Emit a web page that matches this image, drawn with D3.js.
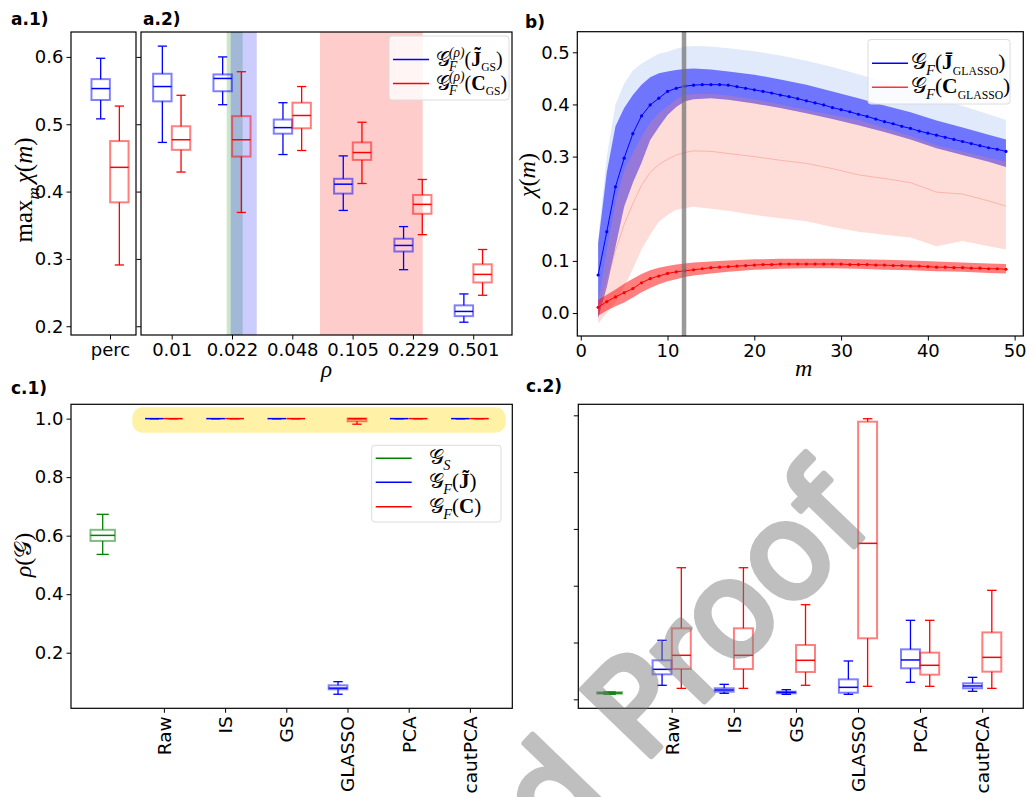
<!DOCTYPE html>
<html>
<head>
<meta charset="utf-8">
<script src="https://cdnjs.cloudflare.com/ajax/libs/d3/7.8.5/d3.min.js"></script>
<style>
  html, body { margin: 0; padding: 0; background: #fff; }
</style>
</head>
<body>
<div id="chart"></div>
<script>
// ---- data ----
var aBlue = [0.508, 0.536, 0.553, 0.567, 0.598];   // lo, q1, median, q3, hi
var aRed = [0.291, 0.384, 0.436, 0.475, 0.527];

var rhoLabels = ['0.01', '0.022', '0.048', '0.105', '0.229', '0.501'];
var rhoBlue = [
  [0.473, 0.534, 0.556, 0.575, 0.616],
  [0.529, 0.549, 0.568, 0.574, 0.600],
  [0.455, 0.486, 0.495, 0.507, 0.532],
  [0.372, 0.397, 0.411, 0.419, 0.453],
  [0.284, 0.311, 0.320, 0.330, 0.348],
  [0.206, 0.215, 0.222, 0.231, 0.248]
];
var rhoRed = [
  [0.429, 0.462, 0.477, 0.497, 0.543],
  [0.369, 0.452, 0.477, 0.512, 0.578],
  [0.461, 0.494, 0.513, 0.532, 0.556],
  [0.412, 0.447, 0.458, 0.473, 0.503],
  [0.336, 0.367, 0.381, 0.395, 0.418],
  [0.246, 0.265, 0.277, 0.292, 0.314]
];
var bandGreen = [0.912, 1.177];
var bandBlue = [0.978, 1.410];
var bandRed = [2.459, 4.162];

var mVals = d3.range(2, 50);
var blueMean = [0.073, 0.156, 0.242, 0.297, 0.344, 0.378, 0.399, 0.412, 0.425, 0.431, 0.435, 0.437,
  0.438, 0.438, 0.438, 0.437, 0.434, 0.431, 0.428, 0.425, 0.422, 0.418, 0.415, 0.411, 0.407, 0.403,
  0.399, 0.394, 0.390, 0.386, 0.381, 0.377, 0.372, 0.367, 0.363, 0.358, 0.354, 0.349, 0.345, 0.341,
  0.337, 0.333, 0.329, 0.325, 0.321, 0.317, 0.314, 0.310];
var redMean = [0.011, 0.022, 0.031, 0.039, 0.047, 0.058, 0.066, 0.071, 0.076, 0.079, 0.081, 0.083,
  0.085, 0.087, 0.088, 0.089, 0.090, 0.091, 0.092, 0.093, 0.093, 0.094, 0.094, 0.094, 0.094, 0.094,
  0.094, 0.094, 0.094, 0.093, 0.093, 0.093, 0.092, 0.092, 0.091, 0.091, 0.090, 0.090, 0.089, 0.088,
  0.088, 0.087, 0.087, 0.086, 0.086, 0.085, 0.085, 0.084];

var bandM = [2, 3, 4, 5, 6, 7, 8, 9, 10, 11, 12, 13, 15, 17, 20, 23, 26, 29, 32, 35, 38, 41, 44, 47, 49];
var lightHi = [0.14, 0.30, 0.40, 0.44, 0.465, 0.478, 0.488, 0.497, 0.501, 0.507, 0.511, 0.512, 0.511,
  0.508, 0.502, 0.494, 0.484, 0.472, 0.458, 0.443, 0.428, 0.412, 0.397, 0.381, 0.370];
var darkHi = [0.134, 0.27, 0.358, 0.393, 0.418, 0.438, 0.452, 0.460, 0.463, 0.466, 0.468, 0.469, 0.467,
  0.463, 0.457, 0.448, 0.438, 0.425, 0.412, 0.398, 0.385, 0.369, 0.356, 0.342, 0.333];
var darkLo = [-0.01, 0.05, 0.127, 0.204, 0.25, 0.288, 0.332, 0.357, 0.38, 0.395, 0.406, 0.41, 0.412,
  0.409, 0.402, 0.393, 0.383, 0.372, 0.36, 0.347, 0.333, 0.316, 0.303, 0.29, 0.28];
var pinkHi = [0.02, 0.12, 0.211, 0.274, 0.307, 0.338, 0.365, 0.384, 0.396, 0.41, 0.418, 0.42, 0.42,
  0.417, 0.41, 0.40, 0.39, 0.38, 0.37, 0.355, 0.34, 0.322, 0.31, 0.298, 0.29];
var pinkLo = [-0.02, 0, 0.02, 0.05, 0.085, 0.122, 0.15, 0.175, 0.188, 0.198, 0.201, 0.204, 0.2,
  0.196, 0.188, 0.182, 0.176, 0.165, 0.156, 0.15, 0.145, 0.128, 0.138, 0.128, 0.122];
var pinkMid = [0, 0.06, 0.12, 0.17, 0.21, 0.245, 0.27, 0.285, 0.295, 0.303, 0.308, 0.311, 0.31,
  0.306, 0.3, 0.293, 0.287, 0.277, 0.265, 0.258, 0.25, 0.232, 0.228, 0.215, 0.205];
var redHi = [0.025, 0.035, 0.045, 0.056, 0.066, 0.075, 0.082, 0.087, 0.09, 0.093, 0.095, 0.097, 0.099,
  0.101, 0.103, 0.104, 0.104, 0.104, 0.103, 0.102, 0.101, 0.099, 0.097, 0.095, 0.094];
var redLo = [-0.005, 0.005, 0.013, 0.02, 0.03, 0.04, 0.048, 0.055, 0.061, 0.065, 0.069, 0.072, 0.076,
  0.079, 0.083, 0.085, 0.086, 0.086, 0.085, 0.083, 0.082, 0.080, 0.079, 0.077, 0.076];
var mStar = 11.9;

var methods = ['Raw', 'IS', 'GS', 'GLASSO', 'PCA', 'cautPCA'];
var densGreen = [0.536, 0.582, 0.601, 0.620, 0.673];
var densBlue = [
  [1, 1, 1, 1, 1], [1, 1, 1, 1, 1], [1, 1, 1, 1, 1],
  [0.058, 0.075, 0.079, 0.0885, 0.101],
  [1, 1, 1, 1, 1], [1, 1, 1, 1, 1]
];
var densRed = [
  [1, 1, 1, 1, 1], [1, 1, 1, 1, 1], [1, 1, 1, 1, 1],
  [0.981, 0.991, 1.0, 1.0, 1.0],
  [1, 1, 1, 1, 1], [1, 1, 1, 1, 1]
];
var c2Green = [0.09, 0.10, 0.111, 0.125, 0.13];
var c2Blue = [
  [0.247, 0.440, 0.528, 0.687, 1.039],
  [0.106, 0.135, 0.164, 0.194, 0.264],
  [0.088, 0.106, 0.123, 0.135, 0.170],
  [0.088, 0.117, 0.211, 0.352, 0.675],
  [0.300, 0.546, 0.693, 0.880, 1.391],
  [0.141, 0.194, 0.235, 0.282, 0.387]
];
var c2Red = [
  [0.193, 0.534, 0.775, 1.250, 2.317],
  [0.193, 0.534, 0.775, 1.250, 2.317],
  [0.247, 0.481, 0.687, 0.956, 1.666],
  [0.229, 1.074, 2.746, 4.888, 4.940],
  [0.229, 0.434, 0.599, 0.822, 1.391],
  [0.193, 0.487, 0.739, 1.178, 1.919]
];

// ---- setup ----
var SANS = "'DejaVu Sans', sans-serif";
var MATH = "'Liberation Serif', 'DejaVu Serif', serif";
var OFF = 0.155, BW = 0.305;

var svg = d3.select('#chart').append('svg')
  .attr('width', 1036).attr('height', 797)
  .style('background', '#fff');

function styleAxis(g) {
  g.select('.domain').remove();
  g.selectAll('text').attr('font-family', SANS).attr('font-size', 18).attr('fill', '#000');
  g.selectAll('line').attr('stroke', '#000').attr('stroke-width', 1);
}

function frame(x0, x1, y0, y1) {
  svg.append('rect').attr('x', x0).attr('y', y0).attr('width', x1 - x0).attr('height', y1 - y0)
    .attr('fill', 'none').attr('stroke', '#000').attr('stroke-width', 1.2);
}

function boxAt(g, x, y, pos, v, color, bw) {
  var xc = x(pos), w = Math.abs(x(bw) - x(0)), cw = w / 2;
  var s = g.append('g').attr('stroke', color).attr('fill', 'none');
  s.append('line').attr('x1', xc).attr('x2', xc).attr('y1', y(v[4])).attr('y2', y(v[3])).attr('stroke-width', 1.3);
  s.append('line').attr('x1', xc).attr('x2', xc).attr('y1', y(v[1])).attr('y2', y(v[0])).attr('stroke-width', 1.3);
  s.append('line').attr('x1', xc - cw / 2).attr('x2', xc + cw / 2).attr('y1', y(v[4])).attr('y2', y(v[4])).attr('stroke-width', 1.3);
  s.append('line').attr('x1', xc - cw / 2).attr('x2', xc + cw / 2).attr('y1', y(v[0])).attr('y2', y(v[0])).attr('stroke-width', 1.3);
  s.append('rect').attr('x', xc - w / 2).attr('y', y(v[3])).attr('width', w)
    .attr('height', Math.max(0, y(v[1]) - y(v[3])))
    .attr('stroke-opacity', 0.5).attr('stroke-width', 2);
  s.append('line').attr('x1', xc - w / 2).attr('x2', xc + w / 2).attr('y1', y(v[2])).attr('y2', y(v[2])).attr('stroke-width', 1.5);
}

// pieces of math-like text, laid out left to right
function mathText(g, x, y, parts, size) {
  var cx = x, pending = 0;
  parts.forEach(function(p) {
    var fs = size * (p.sub || p.sup ? 0.68 : 1) * (p.scale || 1);
    var dy = p.sub ? size * 0.28 : (p.sup ? -size * 0.42 : 0);
    var t = g.append('text').attr('x', cx).attr('y', y + dy)
      .attr('font-family', MATH).attr('font-size', fs)
      .attr('font-style', p.italic ? 'italic' : 'normal')
      .attr('font-weight', p.bold ? 'bold' : 'normal')
      .attr('fill', '#000').text(p.t);
    var w = t.node().getComputedTextLength();
    if (p.stack) { pending = w; }
    else { cx += Math.max(w, pending) + (p.gap || 0); pending = 0; }
  });
  return cx - x;
}

function rotLabel(parts, cx, cy, size) {
  var g = svg.append('g');
  var w = mathText(g, 0, 0, parts, size);
  g.attr('transform', 'translate(' + cx + ',' + cy + ') rotate(-90) translate(' + (-w / 2) + ',0)');
}

function title(t, x, y) {
  svg.append('text').attr('x', x).attr('y', y).attr('font-family', SANS)
    .attr('font-weight', 'bold').attr('font-size', 17).text(t);
}

function legend(x0, y0, w, h, size, rows) {
  var g = svg.append('g');
  g.append('rect').attr('x', x0).attr('y', y0).attr('width', w).attr('height', h).attr('rx', 3)
    .attr('fill', '#fff').attr('fill-opacity', 0.8).attr('stroke', '#dcdcdc').attr('stroke-width', 1);
  rows.forEach(function(r) {
    g.append('line').attr('x1', x0 + 4).attr('x2', x0 + 40).attr('y1', r.y).attr('y2', r.y)
      .attr('stroke', r.color).attr('stroke-width', 1.5);
    mathText(g, r.tx, r.y + 6, r.parts, size);
  });
}

// ---- a.1 ----
var aY = d3.scaleLinear().domain([0.187, 0.637]).range([335, 32]);
var a1X = d3.scaleLinear().domain([-0.647, 0.431]).range([71, 136]);
var a1 = svg.append('g');
boxAt(a1, a1X, aY, -OFF, aBlue, 'blue', BW);
boxAt(a1, a1X, aY, OFF, aRed, 'red', BW);
var a1ya = a1.append('g').attr('transform', 'translate(71,0)')
  .call(d3.axisLeft(aY).tickValues([0.2, 0.3, 0.4, 0.5, 0.6]).tickFormat(d3.format('.1f')).tickSize(4.5).tickPadding(3));
styleAxis(a1ya);
var a1xa = a1.append('g').attr('transform', 'translate(0,335)')
  .call(d3.axisBottom(a1X).tickValues([0]).tickFormat(function() { return 'perc'; }).tickSize(4.5).tickPadding(4));
styleAxis(a1xa);
frame(71, 136, 32, 335);
rotLabel([{t: 'max'}, {t: 'm', sub: true, italic: true, gap: 4}, {t: 'χ', italic: true}, {t: '('}, {t: 'm', italic: true}, {t: ')'}], 32, 190, 25);
title('a.1)', 11, 25);

// ---- a.2 ----
var a2X = d3.scaleLinear().domain([-0.509, 5.643]).range([141, 512]);
var a2 = svg.append('g');
[[bandGreen, 'green'], [bandBlue, 'blue'], [bandRed, 'red']].forEach(function(b) {
  a2.append('rect').attr('x', a2X(b[0][0])).attr('y', 32).attr('width', a2X(b[0][1]) - a2X(b[0][0]))
    .attr('height', 303).attr('fill', b[1]).attr('fill-opacity', 0.2);
});
rhoBlue.forEach(function(v, i) { boxAt(a2, a2X, aY, i - OFF, v, 'blue', BW); });
rhoRed.forEach(function(v, i) { boxAt(a2, a2X, aY, i + OFF, v, 'red', BW); });
var a2ya = a2.append('g').attr('transform', 'translate(141,0)')
  .call(d3.axisLeft(aY).tickValues([0.2, 0.3, 0.4, 0.5, 0.6]).tickFormat('').tickSize(4.5));
styleAxis(a2ya);
var a2xa = a2.append('g').attr('transform', 'translate(0,335)')
  .call(d3.axisBottom(a2X).tickValues(d3.range(6)).tickFormat(function(d) { return rhoLabels[d]; }).tickSize(4.5).tickPadding(4));
styleAxis(a2xa);
frame(141, 512, 32, 335);
legend(389, 36, 120, 64, 20, [
  {y: 59.5, color: 'blue', tx: 436, parts: [{t: '𝒢', gap: -1}, {t: '(ρ)', sup: true, italic: true, stack: true}, {t: 'F', sub: true, italic: true}, {t: '('}, {t: 'J̃', bold: true}, {t: 'GS', sub: true, scale: 0.85}, {t: ')'}]},
  {y: 83.5, color: 'red', tx: 436, parts: [{t: '𝒢', gap: -1}, {t: '(ρ)', sup: true, italic: true, stack: true}, {t: 'F', sub: true, italic: true}, {t: '('}, {t: 'C', bold: true}, {t: 'GS', sub: true, scale: 0.85}, {t: ')'}]}
]);
mathText(svg.append('g'), 321, 377, [{t: 'ρ', italic: true}], 23);
title('a.2)', 143, 25);

// ---- b ----
var bX = d3.scaleLinear().domain([-0.4, 51]).range([577.3, 1023.3]);
var bY = d3.scaleLinear().domain([-0.044, 0.5395]).range([336, 31.7]);
var b = svg.append('g');
function band(hi, lo) {
  return d3.area().x(function(d, i) { return bX(bandM[i]); })
    .y0(function(d, i) { return bY(lo[i]); }).y1(function(d, i) { return bY(hi[i]); })(bandM);
}
b.append('path').attr('d', band(lightHi, darkLo)).attr('fill', 'cornflowerblue').attr('fill-opacity', 0.2);
b.append('path').attr('d', band(darkHi, darkLo)).attr('fill', 'blue').attr('fill-opacity', 0.5);
b.append('path').attr('d', band(pinkHi, pinkLo)).attr('fill', '#fa8072').attr('fill-opacity', 0.27);
b.append('path').attr('d', d3.line().x(function(d, i) { return bX(bandM[i]); }).y(function(d) { return bY(d); })(pinkMid))
  .attr('fill', 'none').attr('stroke', '#fa8072').attr('stroke-opacity', 0.45).attr('stroke-width', 1);
b.append('path').attr('d', band(redHi, redLo)).attr('fill', 'red').attr('fill-opacity', 0.5);
var meanLine = d3.line().x(function(d, i) { return bX(mVals[i]); }).y(function(d) { return bY(d); });
[[blueMean, 'blue'], [redMean, 'red']].forEach(function(s) {
  b.append('path').attr('d', meanLine(s[0])).attr('fill', 'none').attr('stroke', s[1]).attr('stroke-width', 1);
  b.selectAll(null).data(s[0]).enter().append('circle')
    .attr('cx', function(d, i) { return bX(mVals[i]); }).attr('cy', function(d) { return bY(d); })
    .attr('r', 1.6).attr('fill', s[1]);
});
b.append('line').attr('x1', bX(mStar)).attr('x2', bX(mStar)).attr('y1', 31.7).attr('y2', 336)
  .attr('stroke', '#6e6e6e').attr('stroke-opacity', 0.7).attr('stroke-width', 4.5);
var bya = b.append('g').attr('transform', 'translate(577.3,0)')
  .call(d3.axisLeft(bY).tickValues([0, 0.1, 0.2, 0.3, 0.4, 0.5]).tickFormat(d3.format('.1f')).tickSize(4.5).tickPadding(3));
styleAxis(bya);
var bxa = b.append('g').attr('transform', 'translate(0,336)')
  .call(d3.axisBottom(bX).tickValues([0, 10, 20, 30, 40, 50]).tickFormat(d3.format('d')).tickSize(4.5).tickPadding(4));
styleAxis(bxa);
frame(577.3, 1023.3, 31.7, 336);
legend(868, 39.5, 142, 64.5, 21.5, [
  {y: 63.3, color: 'blue', tx: 911, parts: [{t: '𝒢', gap: -1}, {t: 'F', sub: true, italic: true}, {t: '('}, {t: 'J̄', bold: true}, {t: 'GLASSO', sub: true, scale: 0.8}, {t: ')'}]},
  {y: 87.3, color: '#ff3333', tx: 911, parts: [{t: '𝒢', gap: -1}, {t: 'F', sub: true, italic: true}, {t: '('}, {t: 'C', bold: true}, {t: 'GLASSO', sub: true, scale: 0.8}, {t: ')'}]}
]);
rotLabel([{t: 'χ', italic: true}, {t: '('}, {t: 'm', italic: true}, {t: ')'}], 535, 175, 24);
mathText(svg.append('g'), 795, 376, [{t: 'm', italic: true}], 24);
title('b)', 525, 28);

// ---- c.1 ----
var c1X = d3.scaleLinear().domain([-0.518, 6.693]).range([71, 512.3]);
var c1Y = d3.scaleLinear().domain([0.01, 1.049]).range([708.3, 404.3]);
var c1 = svg.append('g');
c1.append('rect').attr('x', c1X(0.484)).attr('y', c1Y(1.0388))
  .attr('width', c1X(6.585) - c1X(0.484)).attr('height', c1Y(0.952) - c1Y(1.0388))
  .attr('rx', 10).attr('fill', '#ffd700').attr('fill-opacity', 0.35);
boxAt(c1, c1X, c1Y, 0, densGreen, 'green', 0.40);
densBlue.forEach(function(v, i) { boxAt(c1, c1X, c1Y, i + 1 - OFF, v, 'blue', BW); });
densRed.forEach(function(v, i) { boxAt(c1, c1X, c1Y, i + 1 + OFF, v, 'red', BW); });
var c1ya = c1.append('g').attr('transform', 'translate(71,0)')
  .call(d3.axisLeft(c1Y).tickValues([0.2, 0.4, 0.6, 0.8, 1.0]).tickFormat(d3.format('.1f')).tickSize(4.5).tickPadding(3));
styleAxis(c1ya);
function methodAxis(g, x, y0) {
  var ax = g.append('g').attr('transform', 'translate(0,' + y0 + ')')
    .call(d3.axisBottom(x).tickValues([1, 2, 3, 4, 5, 6]).tickFormat(function(d) { return methods[d - 1]; }).tickSize(4.5));
  styleAxis(ax);
  ax.selectAll('text').attr('text-anchor', 'end').attr('dy', '0.35em').attr('font-size', 18.5)
    .attr('transform', 'translate(0,8) rotate(-90)').attr('y', 0).attr('x', 0);
}
methodAxis(c1, c1X, 708.3);
frame(71, 512.3, 404.3, 708.3);
legend(371.7, 445.3, 129.3, 76.7, 21, [
  {y: 458.3, color: 'green', tx: 429.3, parts: [{t: '𝒢', gap: -1}, {t: 'S', sub: true, italic: true}]},
  {y: 482.3, color: 'blue', tx: 429.3, parts: [{t: '𝒢', gap: -1}, {t: 'F', sub: true, italic: true}, {t: '('}, {t: 'J̃', bold: true}, {t: ')'}]},
  {y: 506.7, color: 'red', tx: 429.3, parts: [{t: '𝒢', gap: -1}, {t: 'F', sub: true, italic: true}, {t: '('}, {t: 'C', bold: true}, {t: ')'}]}
]);
rotLabel([{t: 'ρ', italic: true}, {t: '('}, {t: '𝒢'}, {t: ')'}], 31, 555, 24);
title('c.1)', 11, 394);

// ---- c.2 ----
var c2X = d3.scaleLinear().domain([-0.504, 6.662]).range([578.3, 1023.3]);
var c2Y = d3.scaleLinear().domain([-0.158, 5.194]).range([708.3, 404.3]);
var c2 = svg.append('g');
boxAt(c2, c2X, c2Y, 0, c2Green, 'green', 0.40);
c2Blue.forEach(function(v, i) { boxAt(c2, c2X, c2Y, i + 1 - OFF, v, 'blue', BW); });
c2Red.forEach(function(v, i) { boxAt(c2, c2X, c2Y, i + 1 + OFF, v, 'red', BW); });
var c2ya = c2.append('g').attr('transform', 'translate(578.3,0)')
  .call(d3.axisLeft(c2Y).tickValues([0, 1, 2, 3, 4, 5]).tickFormat('').tickSize(4.5));
styleAxis(c2ya);
methodAxis(c2, c2X, 708.3);
frame(578.3, 1023.3, 404.3, 708.3);
title('c.2)', 526, 392);

// ---- watermark ----
svg.append('g').attr('opacity', 0.5)
  .append('text').attr('transform', 'translate(555,856) rotate(-46)')
  .attr('font-family', SANS).attr('font-size', 132)
  .attr('fill', '#808080').attr('stroke', '#808080').attr('stroke-width', 6)
  .attr('stroke-linejoin', 'round').text('d Proof');
</script>
</body>
</html>
